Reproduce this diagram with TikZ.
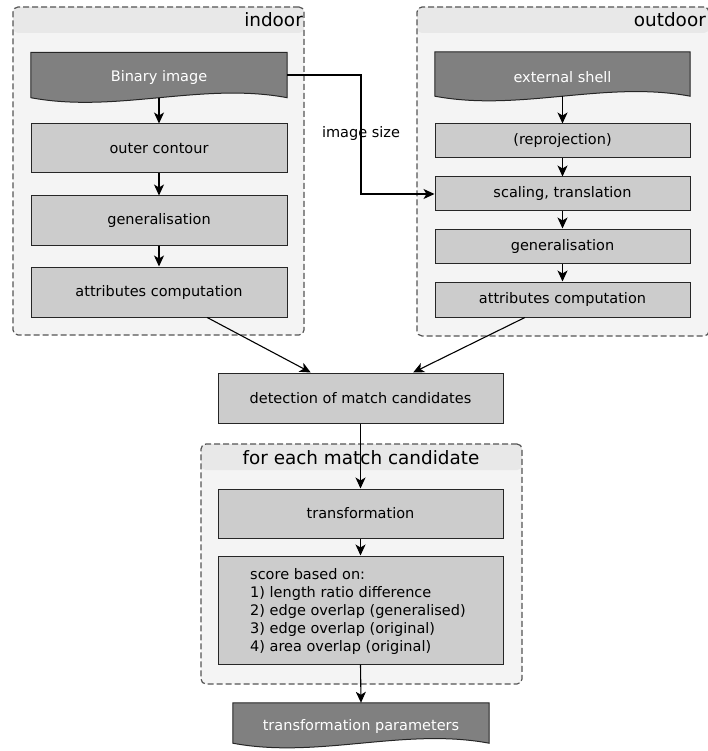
\documentclass[tikz,border=0pt]{standalone}
\usepackage{fontspec}
\setmainfont{DejaVu Sans}
\usetikzlibrary{arrows.meta,calc}
\definecolor{docgray}{HTML}{808080}
\definecolor{boxgray}{HTML}{CCCCCC}
\definecolor{bodyc}{HTML}{F4F4F4}
\definecolor{headc}{HTML}{E8E8E8}
\definecolor{bordc}{HTML}{555555}
\newcommand\boxfont{\fontsize{14.5}{18}\selectfont}
\newcommand\titlefont{\fontsize{18.4}{22}\selectfont}
\newcommand\lowertext[1]{\raisebox{-3pt}[\height][\depth]{#1}}
\pgfdeclarelayer{back}
\pgfdeclarelayer{mid}
\pgfsetlayers{back,mid,main}
\tikzset{
 procbox/.style={draw=black!85, fill=boxgray, line width=1pt, minimum width=256pt, inner sep=0pt, font=\boxfont},
 docbox/.style={inner sep=0pt, text=white, font=\boxfont, minimum width=256pt},
 container/.style={draw=bordc, dash pattern=on 6pt off 3pt, line width=1.2pt, rounded corners=5pt, fill=bodyc, inner sep=0pt,
   path picture={\fill[headc] (path picture bounding box.north west) rectangle ([yshift=-26pt]path picture bounding box.north east);}},
 ctitle/.style={font=\titlefont, inner sep=1pt},
 arr/.style={-{Stealth[length=11pt,width=10pt,inset=3pt]}, line width=1.1pt, draw=black},
 docline/.style={fill=docgray, draw=black!85, line width=1pt},
}
\newcommand\docshape[1]{%
 \filldraw[docline] (#1.north west) -- (#1.north east) -- (#1.south east)
   .. controls ($(#1.south east)!0.333!(#1.south west)+(0,16pt)$) and ($(#1.south east)!0.667!(#1.south west)+(0,-16pt)$) .. (#1.south west) -- cycle;}
\begin{document}
\begin{tikzpicture}[x=1pt,y=-1pt]
\useasboundingbox (0,0) rectangle (707,751);
% containers
\begin{pgfonlayer}{back}
\node[container, minimum width=291pt, minimum height=328pt] (indoor) at (158.5,171) {};
\node[container, minimum width=292pt, minimum height=329pt] (outdoor) at (563,171.5) {};
\node[container, minimum width=321pt, minimum height=240pt] (each) at (361.5,564) {};
\end{pgfonlayer}
\node[ctitle, anchor=base east] (tin) at (304,27) {indoor};
\node[ctitle, anchor=base east] (tout) at (707,27) {outdoor};
\node[ctitle, anchor=base] (teach) at (361,464) {for each match candidate};
% indoor
\node[docbox, minimum height=45pt] (bin) at (159,75) {\lowertext{Binary image}};
\node[procbox, minimum height=49pt] (outer) at (159,148.5) {outer contour};
\node[procbox, minimum height=49pt] (gen1) at (159,220.5) {generalisation};
\node[procbox, minimum height=50pt] (attr1) at (159,292) {attributes computation};
% outdoor
\node[docbox, minimum width=255pt, minimum height=44pt] (ext) at (562.5,74) {\lowertext{external shell}};
\node[procbox, minimum width=255pt, minimum height=34pt] (reproj) at (562.5,141) {(reprojection)};
\node[procbox, minimum width=255pt, minimum height=34pt] (scal) at (562.5,194) {scaling, translation};
\node[procbox, minimum width=255pt, minimum height=34pt] (gen2) at (562.5,246) {generalisation};
\node[procbox, minimum width=255pt, minimum height=35pt] (attr2) at (562.5,299.5) {attributes computation};
% middle
\node[procbox, minimum width=285pt, minimum height=50pt] (det) at (360.5,398) {detection of match candidates};
\node[procbox, minimum width=285pt, minimum height=49pt] (trans) at (360.5,513.5) {transformation};
\node[procbox, minimum width=285pt, minimum height=108pt] (score) at (360.5,610) {};
\node[anchor=west, font=\boxfont, align=left, inner sep=0pt] (scoretext) at (250,611) {score based on:\\1) length ratio difference\\2) edge overlap (generalised)\\3) edge overlap (original)\\4) area overlap (original)};
\node[docbox, minimum height=40pt] (tp) at (361,723) {\lowertext{transformation parameters}};
\begin{pgfonlayer}{mid}
\docshape{bin}
\docshape{ext}
\docshape{tp}
\end{pgfonlayer}
% connectors
\draw[arr] (bin.south) -- (outer.north);
\draw[arr] (outer.south) -- (gen1.north);
\draw[arr] (gen1.south) -- (attr1.north);
\draw[arr] (ext.south) -- (reproj.north);
\draw[arr] (reproj.south) -- (scal.north);
\draw[arr] (scal.south) -- (gen2.north);
\draw[arr] (gen2.south) -- (attr2.north);
\coordinate (kink) at (361,150);
\draw[arr] (bin.east) -| (kink) |- (scal.west);
\node[font=\boxfont, inner sep=0pt] (imsize) at (361,134) {image size};
\draw[arr] ($(attr1.south west)!0.6875!(attr1.south east)$) -- ($(det.north west)!0.326!(det.north east)$);
\draw[arr] ($(attr2.south west)!0.353!(attr2.south east)$) -- ($(det.north west)!0.684!(det.north east)$);
\draw[arr] (det.south) -- (trans.north);
\draw[arr] (trans.south) -- (score.north);
\draw[arr] (score.south) -- (tp.north);
\end{tikzpicture}
\end{document}
